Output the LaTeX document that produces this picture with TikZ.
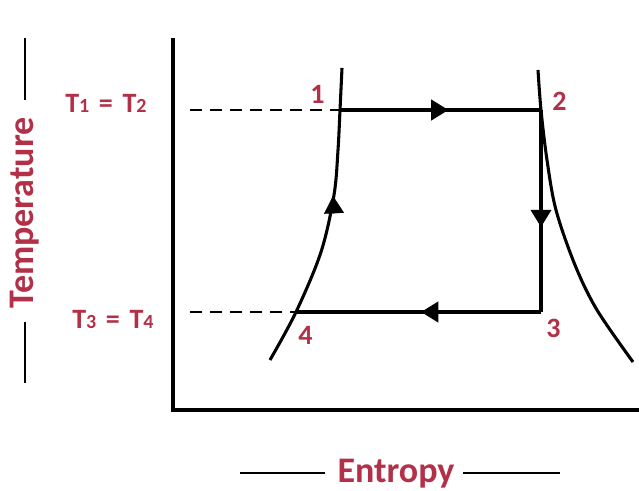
\documentclass[tikz,border=0pt]{standalone}
\usepackage{fontspec}
\setmainfont{Carlito}
\usetikzlibrary{arrows.meta,decorations.markings}
\definecolor{lbl}{RGB}{178,48,72}
\newcommand\mysub[1]{\raisebox{-0.6pt}{\fontsize{15}{15}\selectfont #1}}
\tikzset{
  axisline/.style={line width=3pt},
  cycleline/.style={line width=3pt},
  curveline/.style={line width=2.3pt},
  guide/.style={line width=0.9pt, dash pattern=on 9pt off 6pt},
  lab/.style={text=lbl, font=\bfseries\fontsize{21}{21}\selectfont, inner sep=0pt, anchor=base west},
  biglab/.style={text=lbl, font=\bfseries\fontsize{27}{27}\selectfont, inner sep=0pt},
  midarrow/.style={postaction={decorate}, decoration={markings, mark=at position #1 with {\arrow{Triangle[length=13pt,width=15pt]}}}},
  rule/.style={line width=1pt}
}
\begin{document}
\begin{tikzpicture}[x=0.75pt,y=-0.75pt]
\useasboundingbox (0,0) rectangle (639,490);
% axes
\coordinate (ytop) at (173,38);
\coordinate (orig) at (173,410);
\coordinate (xend) at (639,410);
\draw[axisline] (ytop) -- (orig) -- (xend);
% cycle points
\coordinate (p1) at (340,110);
\coordinate (p2) at (541,110);
\coordinate (p3) at (541,312);
\coordinate (p4) at (296,312);
% curves
\draw[curveline] plot[smooth, tension=0.55] coordinates {(270,360) (296,312) (321,252) (334,195) (338,150) (340,110) (342,68)};
\draw[curveline] plot[smooth, tension=0.55] coordinates {(538,70) (541,110) (547,160) (556,210) (575,265) (597,310) (633,362)};
% arrow on left curve
\coordinate (la) at (334,214);
\coordinate (lb) at (333,196);
\draw[-{Triangle[length=13pt,width=15pt]}, line width=0.1pt] (la) -- (lb);
% cycle
\draw[cycleline, midarrow=0.54] (p1) -- (p2);
\draw[cycleline, midarrow=0.58] (p2) -- (p3);
\draw[cycleline, midarrow=0.49] (p3) -- (p4);
% dashed guides
\coordinate (g1) at (190,110);
\coordinate (g2) at (190,312);
\draw[guide] (g1) -- (p1);
\draw[guide] (g2) -- (p4);
% labels
\node[lab] (t12) at (65,112) {T\mysub{1}\hspace{2.5pt} = \hspace{2.5pt}T\mysub{2}};
\node[lab] (t34) at (72,328) {T\mysub{3}\hspace{2.5pt} = \hspace{2.5pt}T\mysub{4}};
\node[lab] (n1) at (310,103) {1};
\node[lab] (n2) at (552,110) {2};
\node[lab] (n3) at (546,337) {3};
\node[lab] (n4) at (298,344) {4};
% axis titles
\node[biglab, rotate=90] (temp) at (25,213) {Temperature};
\coordinate (tt1) at (25,38);
\coordinate (tt2) at (25,100);
\coordinate (tb1) at (25,322);
\coordinate (tb2) at (25,383);
\draw[rule] (tt1) -- (tt2);
\draw[rule] (tb1) -- (tb2);
\node[biglab, anchor=base] (ent) at (396,482) {Entropy};
\coordinate (el1) at (240,473);
\coordinate (el2) at (325,473);
\coordinate (er1) at (463,473);
\coordinate (er2) at (560,473);
\draw[rule] (el1) -- (el2);
\draw[rule] (er1) -- (er2);
\end{tikzpicture}
\end{document}
